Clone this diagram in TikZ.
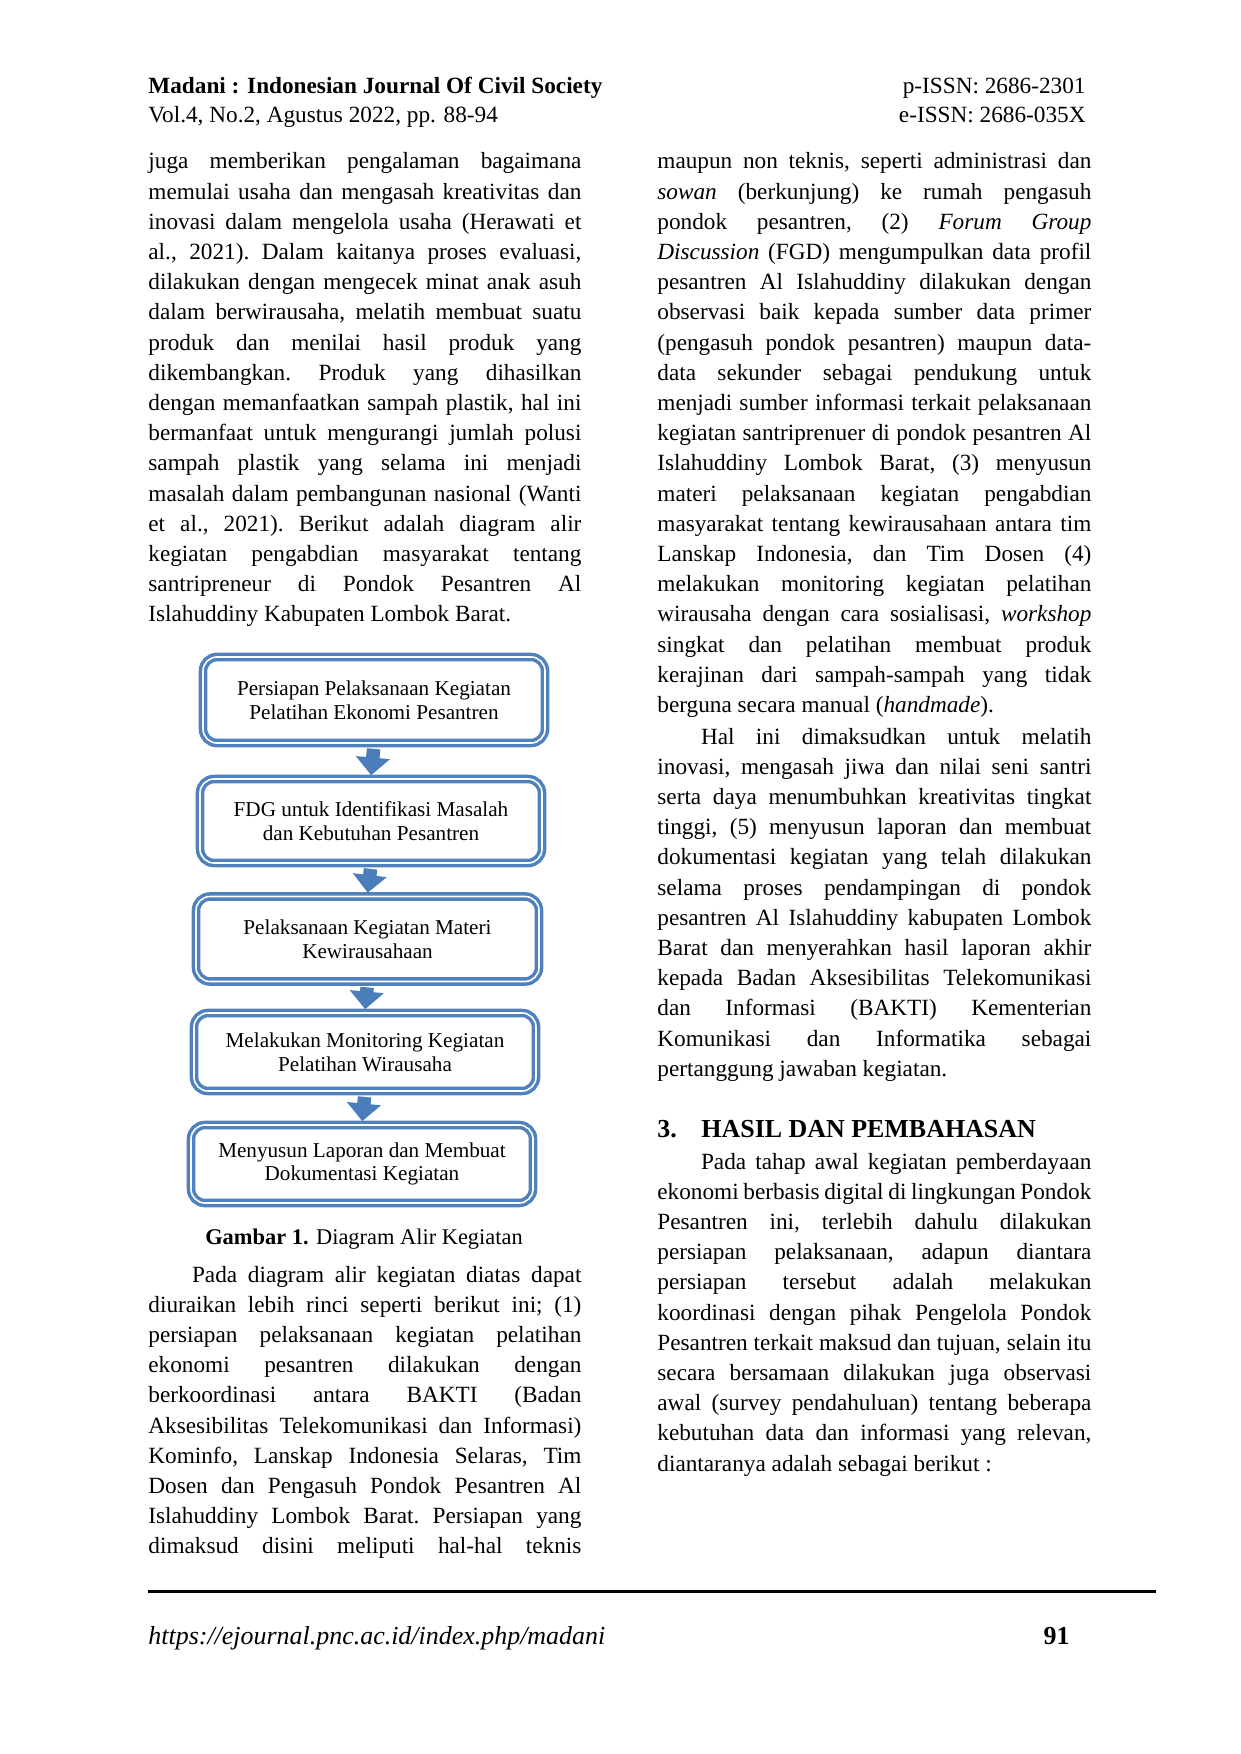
\documentclass[tikz,border=0pt]{standalone}
\usepackage{fontspec}
\setmainfont{Liberation Serif}
\usetikzlibrary{arrows.meta}
\newlength\pxu
\setlength\pxu{0.4818pt}
\definecolor{boxblue}{HTML}{4F81BD}
\definecolor{arrblue}{HTML}{4A7EBB}
\newcommand\bodyfont{\fontsize{11.2}{14.55}\selectfont}
\newcommand\colpar[2]{\parbox[t]{#1\pxu}{\bodyfont\parindent=0pt\frenchspacing\tolerance=10000\hyphenpenalty=10000\exhyphenpenalty=10000 #2}}
\newcommand\ind{\hspace*{21pt}}
\begin{document}
\begin{tikzpicture}[x=\pxu,y=-\pxu,
  txt/.style={inner sep=0pt,anchor=base west},
  flow/.style={draw=boxblue,line width=3.5\pxu,double=white,double distance=1.6\pxu,
    rounded corners=14\pxu,align=center,inner sep=0pt,
    font=\fontsize{10.2}{11.4}\selectfont},
  conn/.style={draw=arrblue,line width=6.5pt,shorten <=2pt,shorten >=1pt,
    -{Triangle[width=16pt,length=8.5pt]}}]
\useasboundingbox (0,0) rectangle (1240,1754);
% header
\node[txt] (h1) at (148,94) {\fontsize{11.2}{13}\selectfont\bfseries Madani : Indonesian Journal Of Civil Society};
\node[txt] (h2) at (148,123) {\fontsize{11.2}{13}\selectfont Vol.4, No.2, Agustus 2022, pp. 88-94};
\node[inner sep=0pt,anchor=base east] (h3) at (1086,94) {\fontsize{11.2}{13}\selectfont p-ISSN: 2686-2301};
\node[inner sep=0pt,anchor=base east] (h4) at (1086,123) {\fontsize{11.2}{13}\selectfont e-ISSN: 2686-035X};
% left column
\node[txt] (lp1) at (148,169) {\colpar{433}{%
juga memberikan pengalaman bagaimana\linebreak
memulai usaha dan mengasah kreativitas dan\linebreak
inovasi dalam mengelola usaha (Herawati et\linebreak
al., 2021). Dalam kaitanya proses evaluasi,\linebreak
dilakukan dengan mengecek minat anak asuh\linebreak
dalam berwirausaha, melatih membuat suatu\linebreak
produk dan menilai hasil produk yang\linebreak
dikembangkan. Produk yang dihasilkan\linebreak
dengan memanfaatkan sampah plastik, hal ini\linebreak
bermanfaat untuk mengurangi jumlah polusi\linebreak
sampah plastik yang selama ini menjadi\linebreak
masalah dalam pembangunan nasional (Wanti\linebreak
et al., 2021). Berikut adalah diagram alir\linebreak
kegiatan pengabdian masyarakat tentang\linebreak
santripreneur di Pondok Pesantren Al\linebreak
Islahuddiny Kabupaten Lombok Barat.}};
% flowchart
\node[flow,minimum width=342\pxu,minimum height=86\pxu] (b1) at (374,700) {Persiapan Pelaksanaan Kegiatan\\Pelatihan Ekonomi Pesantren};
\node[flow,minimum width=342\pxu,minimum height=84\pxu] (b2) at (371,821) {FDG untuk Identifikasi Masalah\\dan Kebutuhan Pesantren};
\node[flow,minimum width=343\pxu,minimum height=85\pxu] (b3) at (367.5,939) {Pelaksanaan Kegiatan Materi\\Kewirausahaan};
\node[flow,minimum width=342\pxu,minimum height=78\pxu] (b4) at (365,1052) {Melakukan Monitoring Kegiatan\\Pelatihan Wirausaha};
\node[flow,minimum width=342\pxu,minimum height=78\pxu] (b5) at (362,1164) {Menyusun Laporan dan Membuat\\Dokumentasi Kegiatan};
\draw[conn] (b1.south) -- (b2.north);
\draw[conn] (b2.south) -- (b3.north);
\draw[conn] (b3.south) -- (b4.north);
\draw[conn] (b4.south) -- (b5.north);
\node[inner sep=0pt,anchor=base] (cap) at (364,1244) {\fontsize{10.8}{13}\selectfont\textbf{Gambar 1.} Diagram Alir Kegiatan};
\node[txt] (lp2) at (148,1282) {\colpar{433}{%
\ind Pada diagram alir kegiatan diatas dapat\linebreak
diuraikan lebih rinci seperti berikut ini; (1)\linebreak
persiapan pelaksanaan kegiatan pelatihan\linebreak
ekonomi pesantren dilakukan dengan\linebreak
berkoordinasi antara BAKTI (Badan\linebreak
Aksesibilitas Telekomunikasi dan Informasi)\linebreak
Kominfo, Lanskap Indonesia Selaras, Tim\linebreak
Dosen dan Pengasuh Pondok Pesantren Al\linebreak
Islahuddiny Lombok Barat. Persiapan yang\linebreak
dimaksud disini meliputi hal-hal teknis\linebreak}};
% right column
\node[txt] (rp1) at (657,169) {\colpar{434}{%
maupun non teknis, seperti administrasi dan\linebreak
\textit{sowan} (berkunjung) ke rumah pengasuh\linebreak
pondok pesantren, (2) \textit{Forum Group}\linebreak
\textit{Discussion} (FGD) mengumpulkan data profil\linebreak
pesantren Al Islahuddiny dilakukan dengan\linebreak
observasi baik kepada sumber data primer\linebreak
(pengasuh pondok pesantren) maupun data-\linebreak
data sekunder sebagai pendukung untuk\linebreak
menjadi sumber informasi terkait pelaksanaan\linebreak
kegiatan santriprenuer di pondok pesantren Al\linebreak
Islahuddiny Lombok Barat, (3) menyusun\linebreak
materi pelaksanaan kegiatan pengabdian\linebreak
masyarakat tentang kewirausahaan antara tim\linebreak
Lanskap Indonesia, dan Tim Dosen (4)\linebreak
melakukan monitoring kegiatan pelatihan\linebreak
wirausaha dengan cara sosialisasi, \textit{workshop}\linebreak
singkat dan pelatihan membuat produk\linebreak
kerajinan dari sampah-sampah yang tidak\linebreak
berguna secara manual (\textit{handmade}).}};
\node[txt] (rp2) at (657,744) {\colpar{434}{%
\ind Hal ini dimaksudkan untuk melatih\linebreak
inovasi, mengasah jiwa dan nilai seni santri\linebreak
serta daya menumbuhkan kreativitas tingkat\linebreak
tinggi, (5) menyusun laporan dan membuat\linebreak
dokumentasi kegiatan yang telah dilakukan\linebreak
selama proses pendampingan di pondok\linebreak
pesantren Al Islahuddiny kabupaten Lombok\linebreak
Barat dan menyerahkan hasil laporan akhir\linebreak
kepada Badan Aksesibilitas Telekomunikasi\linebreak
dan Informasi (BAKTI) Kementerian\linebreak
Komunikasi dan Informatika sebagai\linebreak
pertanggung jawaban kegiatan.}};
\node[txt] (hd) at (657,1137) {\fontsize{12.5}{15}\selectfont\bfseries 3.};
\node[txt] (hd2) at (701,1137) {\fontsize{12.5}{15}\selectfont\bfseries HASIL DAN PEMBAHASAN};
\node[txt] (rp3) at (657,1169) {\colpar{434}{%
\ind Pada tahap awal kegiatan pemberdayaan\linebreak
ekonomi berbasis digital di lingkungan Pondok\linebreak
Pesantren ini, terlebih dahulu dilakukan\linebreak
persiapan pelaksanaan, adapun diantara\linebreak
persiapan tersebut adalah melakukan\linebreak
koordinasi dengan pihak Pengelola Pondok\linebreak
Pesantren terkait maksud dan tujuan, selain itu\linebreak
secara bersamaan dilakukan juga observasi\linebreak
awal (survey pendahuluan) tentang beberapa\linebreak
kebutuhan data dan informasi yang relevan,\linebreak
diantaranya adalah sebagai berikut :}};
% footer
\coordinate (fl) at (148,1591);
\coordinate (fr) at (1156,1591);
\draw[line width=3\pxu] (fl) -- (fr);
\node[txt] (url) at (148,1644) {\fontsize{12.5}{15}\selectfont\itshape https://ejournal.pnc.ac.id/index.php/madani};
\node[inner sep=0pt,anchor=base east] (pg) at (1070,1644) {\fontsize{12.5}{15}\selectfont\bfseries 91};
\end{tikzpicture}
\end{document}
